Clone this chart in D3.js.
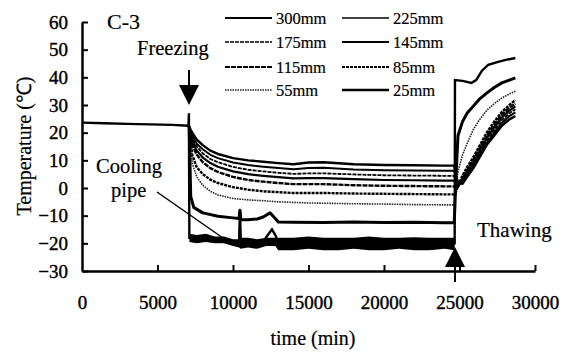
<!DOCTYPE html>
<html><head><meta charset="utf-8">
<script src="https://cdn.jsdelivr.net/npm/d3@7"></script>
<style>
html,body{margin:0;padding:0;background:#fff;}
</style></head>
<body><svg id="c" width="573" height="354"></svg>
<script>
// ---- data ----
const xTicks = [0, 5000, 10000, 15000, 20000, 25000, 30000];
const yTicks = [-30, -20, -10, 0, 10, 20, 30, 40, 50, 60];
const legendLabels = ["300mm","225mm","175mm","145mm","115mm","85mm","55mm","25mm"];

const preTimes = [0, 1500, 3000, 4500, 6000, 7050];
const preValues = [23.6, 23.4, 23.2, 23.0, 22.8, 22.5];

const sensorTimes = [7100, 7300, 7600, 8000, 8500, 9000, 10000, 11000, 12000, 13000, 14000, 15000, 16000, 18000, 20000, 22000, 24000, 24650,
                     24800, 24900, 25200, 25500, 25900, 26300, 26800, 27300, 27800, 28300, 28700];
const s300 = [22, 20, 17.5, 15.5, 13.5, 12.3, 10.8, 10.0, 9.5, 9.0, 8.6, 9.2, 9.3, 8.6, 8.3, 8.2, 8.1, 8.1,
              4, 2, 1.5, 4, 7, 10.8, 15.5, 19, 22.5, 24.8, 26];
const s225 = [22, 19, 16, 14, 12, 10.8, 9.2, 8.3, 7.7, 7.2, 6.8, 7.2, 7.3, 6.7, 6.4, 6.3, 6.2, 6.2,
              3, 1.5, 2, 4.5, 7.8, 11.5, 16.2, 20, 23.5, 26, 27.3];
const s175 = [22, 18, 15, 12.5, 10.5, 9.3, 7.6, 6.6, 6.0, 5.5, 5.1, 5.3, 5.3, 4.9, 4.6, 4.5, 4.4, 4.4,
              2, 1, 2.5, 5.2, 8.5, 12.2, 17, 21, 24.5, 27, 28.5];
const s145 = [22, 17, 13.5, 11, 9.0, 7.7, 6.0, 5.0, 4.4, 3.9, 3.5, 3.6, 3.6, 3.2, 2.9, 2.8, 2.7, 2.7,
              1, 0.5, 3, 5.8, 9.2, 13, 18, 22, 25.5, 28, 29.5];
const s115 = [22, 15.5, 12, 9.3, 7.2, 5.8, 4.0, 2.9, 2.3, 1.8, 1.4, 1.4, 1.4, 1.0, 0.8, 0.7, 0.6, 0.6,
              0, 0.5, 3.5, 6.5, 10, 14, 19, 23, 26.5, 29, 30.5];
const s85  = [22, 12, 7.5, 5, 3, 1.8, 0.3, -0.6, -1.2, -1.5, -1.8, -1.8, -1.8, -2.0, -2.1, -2.2, -2.3, -2.3,
              -1, 1, 4.5, 7.5, 11, 15, 20, 24, 27.5, 30, 31.8];
const s55  = [22, 9, 4, 1, -1.2, -2.5, -3.8, -4.3, -4.6, -5.0, -5.2, -5.4, -5.5, -5.7, -5.8, -6.0, -6.1, -6.1,
              2, 6, 12, 16, 21, 24.5, 28, 30.5, 32.5, 34, 35];

const s25Times = [7100, 7200, 7400, 8000, 9000, 10000, 10400, 10460, 10520, 11000, 11600, 12000, 12450, 12800, 13000, 14000, 16000, 18000, 20000, 22000, 24000, 24650,
                  24800, 24900, 25200, 25500, 25900, 26300, 26800, 27300, 27800, 28300, 28700];
const s25 = [22, -3, -7, -9, -10.2, -10.8, -11, -8, -11.5, -11.5, -11.2, -10.5, -9, -11, -12.3, -12.4, -12.5, -12.3, -12.5, -12.4, -12.6, -12.6,
             8, 19, 24, 27, 29.5, 32, 34.3, 36.3, 38, 39, 39.8];

const pipeTimes = [7080, 7110, 9000, 10400, 10460, 10520, 12000, 12300, 12580, 12850, 12950, 18000, 24680,
                   24700, 25200, 25800, 26100, 26500, 26900, 27500, 28000, 28700];
const pipeValues = [27, -18, -18.5, -20, -8, -20, -19.5, -17, -15, -17.5, -20.5, -20, -20,
                    39, 38.7, 38, 39, 42.5, 44.5, 45.5, 46.2, 47];

const bandTimes = [7110, 7600, 8200, 8800, 9400, 10000, 10400, 10500, 11000, 11600, 12200, 12800, 13000, 14000, 15000, 16000, 17000, 18000, 19000, 20000, 21000, 22000, 23000, 24000, 24680];
const bandLow   = [-19.5, -20, -19.5, -20, -20, -21, -21.5, -22, -21.5, -22, -21, -21, -22.5, -22.5, -22, -22.5, -22.5, -22, -22.5, -22.5, -22, -22.5, -22.5, -22, -22.5];
const bandHigh  = [-16.5, -17, -16.5, -17.5, -17.5, -18.5, -18.5, -18, -18, -18.5, -18, -18, -18, -18, -17.5, -18, -18, -18, -17.5, -18, -18, -17.8, -18, -18, -18];

// ---- chart ----
const FONT = '"Liberation Serif", "Times New Roman", serif';
const svg = d3.select("#c");
svg.append("rect").attr("width",573).attr("height",354).attr("fill","#fff");

const x = d3.scaleLinear().domain([0, 30000]).range([82, 535]);
const y = d3.scaleLinear().domain([-30, 60]).range([271, 22]);

const styles = {
  "300mm": {w:2.4, dash:null, c:"#000"},
  "225mm": {w:2.0, dash:null, c:"#000"},
  "175mm": {w:1.8, dash:"4,1", c:"#000"},
  "145mm": {w:2.2, dash:null, c:"#000"},
  "115mm": {w:2.4, dash:"5,1", c:"#000"},
  "85mm":  {w:2.4, dash:"3,1", c:"#000"},
  "55mm":  {w:1.6, dash:"1.5,1", c:"#222"},
  "25mm":  {w:3.0, dash:null, c:"#000"}
};
const seriesVals = {"300mm":s300,"225mm":s225,"175mm":s175,"145mm":s145,"115mm":s115,"85mm":s85,"55mm":s55};

const line = d3.line().x(d=>x(d[0])).y(d=>y(d[1]));

function txt(xp, yp, size, s){
  return svg.append("text").attr("x",xp).attr("y",yp).attr("font-size",size)
    .style("font-family",FONT).attr("fill","#000")
    .attr("stroke","#000").attr("stroke-width",0.2).text(s);
}

// cooling pipe band
const band = d3.area().x(d=>x(d[0])).y0(d=>y(d[1])).y1(d=>y(d[2]));
svg.append("path")
  .attr("d", band(bandTimes.map((t,i)=>[t, bandLow[i], bandHigh[i]])))
  .attr("fill","#000");

// pre-freezing common line
svg.append("path")
  .attr("d", line(preTimes.map((t,i)=>[t, preValues[i]])))
  .attr("fill","none").attr("stroke","#000").attr("stroke-width",2.3);

// sensors
Object.keys(seriesVals).forEach(k=>{
  const v = seriesVals[k];
  const pts = [[preTimes[preTimes.length-1], preValues[preValues.length-1]]].concat(sensorTimes.map((t,i)=>[t, v[i]]));
  const st = styles[k];
  svg.append("path").attr("d", line(pts))
    .attr("fill","none").attr("stroke",st.c).attr("stroke-width",st.w)
    .attr("stroke-dasharray", st.dash).attr("stroke-linejoin","round");
});
{
  const pts = [[preTimes[preTimes.length-1], preValues[preValues.length-1]]].concat(s25Times.map((t,i)=>[t, s25[i]]));
  svg.append("path").attr("d", line(pts))
    .attr("fill","none").attr("stroke","#000").attr("stroke-width",styles["25mm"].w).attr("stroke-linejoin","round");
}
// pipe line
{
  const pts = [[preTimes[preTimes.length-1], preValues[preValues.length-1]]].concat(pipeTimes.map((t,i)=>[t, pipeValues[i]]));
  svg.append("path").attr("d", line(pts))
    .attr("fill","none").attr("stroke","#000").attr("stroke-width",2.4).attr("stroke-linejoin","miter");
}

// axes
const gx = svg.append("g").attr("transform","translate(0,271)")
  .call(d3.axisBottom(x).tickValues(xTicks).tickSize(-6).tickSizeOuter(0).tickPadding(25).tickFormat(d3.format("d")));
const gy = svg.append("g").attr("transform","translate(82,0)")
  .call(d3.axisLeft(y).tickValues(yTicks).tickSize(-6).tickSizeOuter(0).tickPadding(14).tickFormat(d3.format("d")));
[gx, gy].forEach(g=>{
  g.attr("font-family",null);
  g.select(".domain").attr("stroke","#000").attr("stroke-width",2.5);
  g.selectAll(".tick line").attr("stroke","#000").attr("stroke-width",2);
  g.selectAll(".tick text").style("font-family",FONT).attr("font-size",19).attr("fill","#000")
    .attr("stroke","#000").attr("stroke-width",0.4);
});
gx.selectAll(".tick").filter(d=>d===0).select("line").remove();

// axis titles
txt(313, 345, 20, "time (min)").attr("text-anchor","middle");
svg.append("text").attr("transform","translate(31,146) rotate(-90)").attr("text-anchor","middle")
  .attr("font-size",20).style("font-family",FONT).attr("fill","#000")
  .attr("stroke","#000").attr("stroke-width",0.2).text("Temperature (℃)");

// legend
const legX = [225, 342], legY = [18, 42, 67, 90];
legendLabels.forEach((lab,i)=>{
  const col = i%2, row = Math.floor(i/2);
  const st = styles[lab];
  const lx = legX[col], ly = legY[row];
  svg.append("line").attr("x1",lx).attr("x2",lx+47).attr("y1",ly).attr("y2",ly)
    .attr("stroke",st.c).attr("stroke-width",Math.max(1.4, st.w-0.4)).attr("stroke-dasharray",st.dash);
  txt(lx+51, ly+5.5, 16.5, lab);
});

// annotations
txt(107, 29, 22, "C-3");
txt(137, 55, 20.5, "Freezing");
svg.append("line").attr("x1",189).attr("x2",189).attr("y1",70).attr("y2",88).attr("stroke","#000").attr("stroke-width",2);
svg.append("path").attr("d","M179,85 L199,85 L189,105 Z").attr("fill","#000");

txt(96, 173, 20.5, "Cooling");
txt(111, 197, 20.5, "pipe");
svg.append("line").attr("x1",157).attr("y1",192).attr("x2",223).attr("y2",238).attr("stroke","#000").attr("stroke-width",1.5);

txt(477, 237, 21, "Thawing");
svg.append("line").attr("x1",455).attr("x2",455).attr("y1",265).attr("y2",282).attr("stroke","#000").attr("stroke-width",2);
svg.append("path").attr("d","M445,267 L465,267 L455,247 Z").attr("fill","#000");
</script></body></html>
